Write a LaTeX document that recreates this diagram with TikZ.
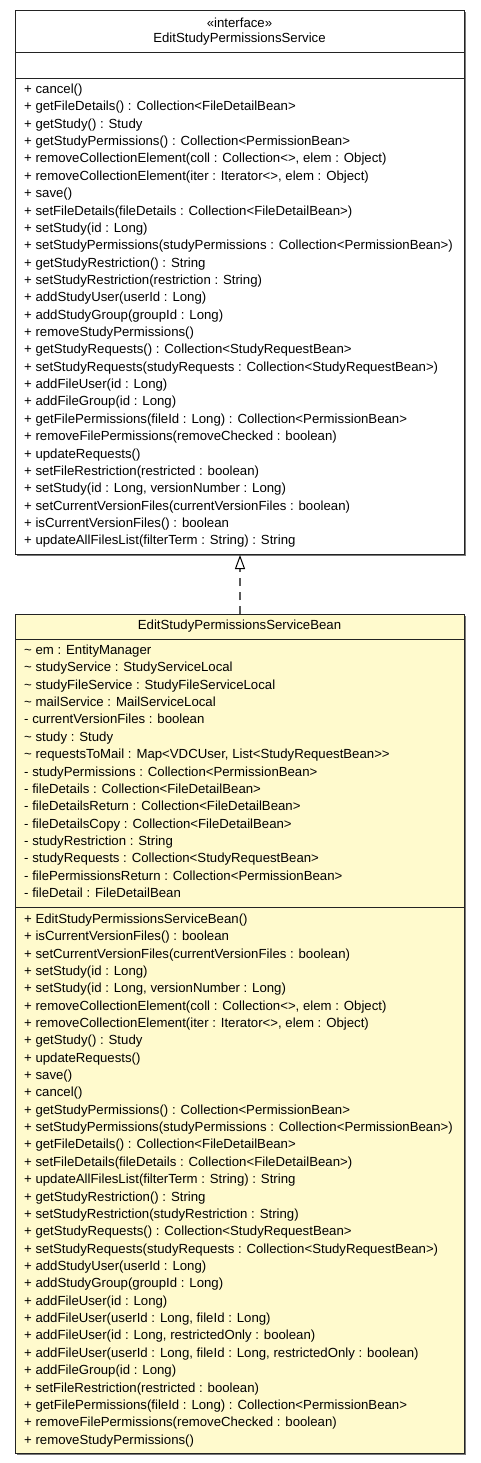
\documentclass[tikz,border=0pt]{standalone}
\usepackage{fontspec}
\setmainfont{Liberation Sans}
\usetikzlibrary{arrows.meta}
\definecolor{beanfill}{RGB}{255,250,205}
\definecolor{edgecol}{RGB}{35,35,35}
\definecolor{shadowcol}{RGB}{120,120,120}
\definecolor{dashcol}{RGB}{90,90,90}
\begin{document}
\begin{tikzpicture}[x=1pt,y=-1pt,
  umlbox/.style={draw=edgecol, line width=1pt, minimum width=449pt, anchor=north west, inner sep=0pt},
  sepline/.style={draw=edgecol, line width=1pt},
  txt/.style={anchor=base west, inner sep=0pt, font=\fontsize{13.2}{16}\selectfont},
  ttl/.style={anchor=base, inner sep=0pt, font=\fontsize{13.2}{16}\selectfont},
  realize/.style={draw=dashcol, line width=1.6pt, dash pattern=on 8pt off 6pt,
    -{Triangle[open, length=14pt, width=10pt, color=black, line width=1pt]}}]
\useasboundingbox[fill=white] (0,0) rectangle (480,1463);
% interface box
\fill[shadowcol] (17,12) rectangle (466,556);
\node[umlbox, fill=white, minimum height=544pt] (iface) at (15,10) {};
\draw[sepline] (15,52.7) -- (464,52.7);
\draw[sepline] (15,78.3) -- (464,78.3);
\node[ttl] (istereo) at (239.5,28) {«interface»};
\node[ttl] (iname) at (239.5,42.5) {EditStudyPermissionsService};
\foreach \t [count=\i from 0] in {
{+ cancel()},
{+ getFileDetails() : Collection<FileDetailBean>},
{+ getStudy() : Study},
{+ getStudyPermissions() : Collection<PermissionBean>},
{+ removeCollectionElement(coll : Collection<>, elem : Object)},
{+ removeCollectionElement(iter : Iterator<>, elem : Object)},
{+ save()},
{+ setFileDetails(fileDetails : Collection<FileDetailBean>)},
{+ setStudy(id : Long)},
{+ setStudyPermissions(studyPermissions : Collection<PermissionBean>)},
{+ getStudyRestriction() : String},
{+ setStudyRestriction(restriction : String)},
{+ addStudyUser(userId : Long)},
{+ addStudyGroup(groupId : Long)},
{+ removeStudyPermissions()},
{+ getStudyRequests() : Collection<StudyRequestBean>},
{+ setStudyRequests(studyRequests : Collection<StudyRequestBean>)},
{+ addFileUser(id : Long)},
{+ addFileGroup(id : Long)},
{+ getFilePermissions(fileId : Long) : Collection<PermissionBean>},
{+ removeFilePermissions(removeChecked : boolean)},
{+ updateRequests()},
{+ setFileRestriction(restricted : boolean)},
{+ setStudy(id : Long, versionNumber : Long)},
{+ setCurrentVersionFiles(currentVersionFiles : boolean)},
{+ isCurrentVersionFiles() : boolean},
{+ updateAllFilesList(filterTerm : String) : String}}
  \node[txt] (im\i) at (24,93.5+17.36*\i) {\t};
% bean box
\fill[shadowcol] (17,616) rectangle (466,1455);
\node[umlbox, fill=beanfill, minimum height=839pt] (bean) at (15,614) {};
\draw[sepline] (15,639) -- (464,639);
\draw[sepline] (15,907.7) -- (464,907.7);
\node[ttl] (bname) at (239.5,629.5) {EditStudyPermissionsServiceBean};
\foreach \t [count=\i from 0] in {
{\textasciitilde{} em : EntityManager},
{\textasciitilde{} studyService : StudyServiceLocal},
{\textasciitilde{} studyFileService : StudyFileServiceLocal},
{\textasciitilde{} mailService : MailServiceLocal},
{- currentVersionFiles : boolean},
{\textasciitilde{} study : Study},
{\textasciitilde{} requestsToMail : Map<VDCUser, List<StudyRequestBean>\mbox{>}},
{- studyPermissions : Collection<PermissionBean>},
{- fileDetails : Collection<FileDetailBean>},
{- fileDetailsReturn : Collection<FileDetailBean>},
{- fileDetailsCopy : Collection<FileDetailBean>},
{- studyRestriction : String},
{- studyRequests : Collection<StudyRequestBean>},
{- filePermissionsReturn : Collection<PermissionBean>},
{- fileDetail : FileDetailBean}}
  \node[txt] (ba\i) at (24,654.5+17.36*\i) {\t};
\foreach \t [count=\i from 0] in {
{+ EditStudyPermissionsServiceBean()},
{+ isCurrentVersionFiles() : boolean},
{+ setCurrentVersionFiles(currentVersionFiles : boolean)},
{+ setStudy(id : Long)},
{+ setStudy(id : Long, versionNumber : Long)},
{+ removeCollectionElement(coll : Collection<>, elem : Object)},
{+ removeCollectionElement(iter : Iterator<>, elem : Object)},
{+ getStudy() : Study},
{+ updateRequests()},
{+ save()},
{+ cancel()},
{+ getStudyPermissions() : Collection<PermissionBean>},
{+ setStudyPermissions(studyPermissions : Collection<PermissionBean>)},
{+ getFileDetails() : Collection<FileDetailBean>},
{+ setFileDetails(fileDetails : Collection<FileDetailBean>)},
{+ updateAllFilesList(filterTerm : String) : String},
{+ getStudyRestriction() : String},
{+ setStudyRestriction(studyRestriction : String)},
{+ getStudyRequests() : Collection<StudyRequestBean>},
{+ setStudyRequests(studyRequests : Collection<StudyRequestBean>)},
{+ addStudyUser(userId : Long)},
{+ addStudyGroup(groupId : Long)},
{+ addFileUser(id : Long)},
{+ addFileUser(userId : Long, fileId : Long)},
{+ addFileUser(id : Long, restrictedOnly : boolean)},
{+ addFileUser(userId : Long, fileId : Long, restrictedOnly : boolean)},
{+ addFileGroup(id : Long)},
{+ setFileRestriction(restricted : boolean)},
{+ getFilePermissions(fileId : Long) : Collection<PermissionBean>},
{+ removeFilePermissions(removeChecked : boolean)},
{+ removeStudyPermissions()}}
  \node[txt] (bm\i) at (24,923.3+17.36*\i) {\t};
% realization
\draw[realize] (bean.north) -- (iface.south);
\end{tikzpicture}
\end{document}
